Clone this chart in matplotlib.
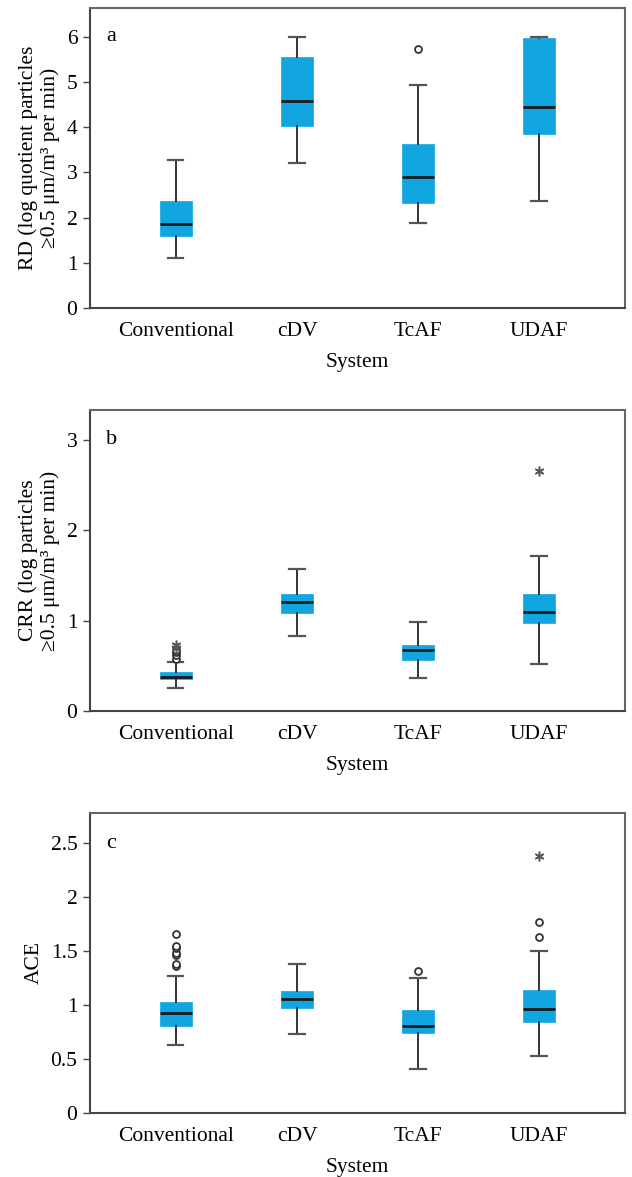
import matplotlib.pyplot as plt

plt.rcParams["font.family"] = ["Liberation Serif", "DejaVu Serif"]

systems = ["Conventional", "cDV", "TcAF", "UDAF"]

# panel a: RD
rd_whislo = [1.10, 3.22, 1.88, 2.37]
rd_q1 = [1.60, 4.02, 2.33, 3.86]
rd_med = [1.87, 4.58, 2.89, 4.44]
rd_q3 = [2.37, 5.56, 3.64, 5.97]
rd_whishi = [3.27, 6.00, 4.93, 6.00]
rd_circles = [[], [], [5.73], []]
rd_stars = [[], [], [], []]

# panel b: CRR
crr_whislo = [0.25, 0.83, 0.37, 0.52]
crr_q1 = [0.35, 1.09, 0.56, 0.97]
crr_med = [0.38, 1.21, 0.67, 1.10]
crr_q3 = [0.43, 1.29, 0.73, 1.30]
crr_whishi = [0.54, 1.57, 0.99, 1.71]
crr_circles = [[0.58, 0.62, 0.65, 0.67], [], [], []]
crr_stars = [[0.70, 0.73], [], [], [2.66]]

# panel c: ACE
ace_whislo = [0.63, 0.73, 0.41, 0.53]
ace_q1 = [0.81, 0.97, 0.74, 0.84]
ace_med = [0.93, 1.06, 0.81, 0.96]
ace_q3 = [1.03, 1.13, 0.95, 1.14]
ace_whishi = [1.27, 1.38, 1.25, 1.50]
ace_circles = [[1.36, 1.38, 1.46, 1.48, 1.53, 1.55, 1.66], [], [1.32], [1.63, 1.77]]
ace_stars = [[], [], [], [2.38]]

BOX_COLOR = "#12A6E0"


def draw_panel(ax, whislo, q1, med, q3, whishi, circles, stars, ylim, yticks, yticklabels, ylabel, letter):
    stats = []
    for i in range(len(systems)):
        stats.append({"whislo": whislo[i], "q1": q1[i], "med": med[i], "q3": q3[i],
                      "whishi": whishi[i], "fliers": circles[i], "label": systems[i]})
    ax.bxp(stats, positions=range(1, 5), widths=0.265, capwidths=0.125, patch_artist=True,
           showfliers=True,
           boxprops=dict(facecolor=BOX_COLOR, edgecolor=BOX_COLOR, linewidth=0.5),
           medianprops=dict(color="#1a1a1a", linewidth=2),
           whiskerprops=dict(color="#333333", linewidth=1.4),
           capprops=dict(color="#555555", linewidth=1.6),
           flierprops=dict(marker="o", markerfacecolor="white", markeredgecolor="#333333",
                           markersize=5, markeredgewidth=1.3))
    for i, vals in enumerate(stars):
        if vals:
            ax.plot([i + 1] * len(vals), vals, linestyle="none", marker=(6, 2, 0),
                    markersize=7, color="#555555", markeredgewidth=1.1)
    ax.set_xlim(0.29, 4.71)
    ax.set_ylim(*ylim)
    ax.set_yticks(yticks)
    ax.set_yticklabels(yticklabels)
    ax.tick_params(axis="x", length=0, labelsize=15.5, pad=10)
    ax.tick_params(axis="y", length=5, width=1, labelsize=15.5, pad=4, color="#444444")
    ax.set_ylabel(ylabel, fontsize=15.5, labelpad=5, linespacing=1.15)
    ax.set_xlabel("System", fontsize=15.5, labelpad=9)
    for side in ["top", "right"]:
        ax.spines[side].set_color("#666666")
        ax.spines[side].set_linewidth(1.5)
    for side in ["left", "bottom"]:
        ax.spines[side].set_color("#444444")
        ax.spines[side].set_linewidth(1.5)
    ax.text(0.03, yticks[-1], letter, transform=ax.get_yaxis_transform(),
            fontsize=16, va="center", ha="left")


fig = plt.figure(figsize=(6.32, 11.77), dpi=100)
ax_a = fig.add_axes([0.1424, 0.7383, 0.8465, 0.2549])
ax_b = fig.add_axes([0.1424, 0.3959, 0.8465, 0.2557])
ax_c = fig.add_axes([0.1424, 0.0544, 0.8465, 0.2549])

draw_panel(ax_a, rd_whislo, rd_q1, rd_med, rd_q3, rd_whishi, rd_circles, rd_stars,
           (0, 6.64), [0, 1, 2, 3, 4, 5, 6], ["0", "1", "2", "3", "4", "5", "6"],
           "RD (log quotient particles\n≥0.5 μm/m³ per min)", "a")
draw_panel(ax_b, crr_whislo, crr_q1, crr_med, crr_q3, crr_whishi, crr_circles, crr_stars,
           (0, 3.33), [0, 1, 2, 3], ["0", "1", "2", "3"],
           "CRR (log particles\n≥0.5 μm/m³ per min)", "b")
draw_panel(ax_c, ace_whislo, ace_q1, ace_med, ace_q3, ace_whishi, ace_circles, ace_stars,
           (0, 2.78), [0, 0.5, 1, 1.5, 2, 2.5], ["0", "0.5", "1", "1.5", "2", "2.5"],
           "ACE", "c")

fig.savefig("out.png", dpi=100)
